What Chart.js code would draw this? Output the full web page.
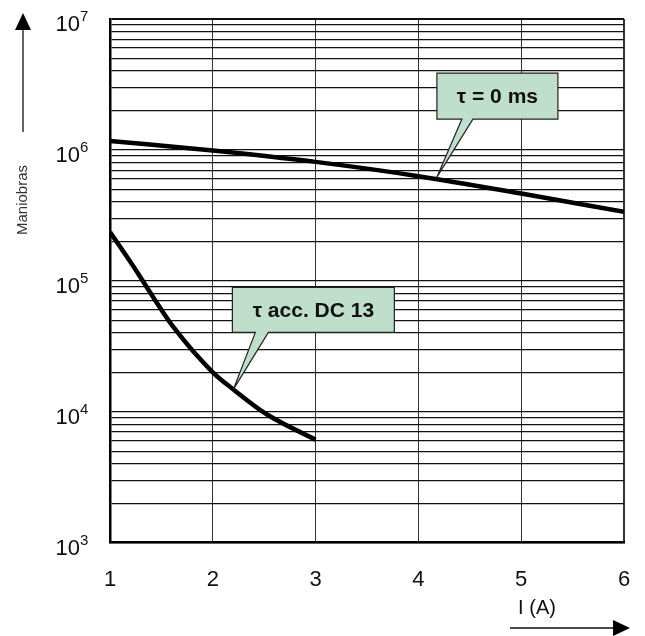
<!DOCTYPE html>
<html><head><meta charset="utf-8">
<script src="https://cdn.jsdelivr.net/npm/chart.js@4/dist/chart.umd.min.js"></script>
<style>html,body{margin:0;padding:0;background:#fff}#wrap{width:645px;height:636px}</style>
</head><body><div id="wrap"><canvas id="c" width="645" height="636"></canvas></div>
<script>
// ---- data ----
const xTickValues = [1, 2, 3, 4, 5, 6];
const yDecades = [3, 4, 5, 6, 7];
const tau0X = [1, 2, 3, 4, 5, 6];
const tau0Y = [1170000, 990000, 810000, 630000, 464000, 336000];
const dc13X = [1, 1.23, 1.42, 1.62, 2.0, 2.2, 2.52, 3.0];
const dc13Y = [236000, 128000, 75000, 44000, 20000, 14800, 9600, 6100];
const calloutTexts = ['τ = 0 ms', 'τ acc. DC 13'];
const calloutTipX = [4.18, 2.2];
const calloutTipY = [620000, 14800];
const yTitle = 'Maniobras';
const xTitle = 'I (A)';

const FONT = '"Liberation Sans", Arial, Helvetica, sans-serif';

// minor + major log ticks
const yTickValues = [];
yDecades.forEach((d, i) => {
  for (let k = 1; k <= 9; k++) {
    if (i === yDecades.length - 1 && k > 1) break;
    yTickValues.push(k * Math.pow(10, d));
  }
});

const calloutGeom = [
  {left: 0, right: 121, top: -104, bottom: -58, tailL: 25, tailR: 36},
  {left: -1, right: 161, top: -102, bottom: -57, tailL: 22, tailR: 35}
];

const overlay = {
  id: 'overlay',
  afterDatasetsDraw(chart) {
    const ctx = chart.ctx;
    const xs = chart.scales.x, ys = chart.scales.y;
    ctx.save();
    calloutTexts.forEach((t, i) => {
      const tx = xs.getPixelForValue(calloutTipX[i]);
      const ty = ys.getPixelForValue(calloutTipY[i]);
      const g = calloutGeom[i];
      const L = tx + g.left, R = tx + g.right, T = ty + g.top, B = ty + g.bottom;
      ctx.beginPath();
      ctx.moveTo(L, T); ctx.lineTo(R, T); ctx.lineTo(R, B);
      ctx.lineTo(tx + g.tailR, B); ctx.lineTo(tx, ty); ctx.lineTo(tx + g.tailL, B);
      ctx.lineTo(L, B); ctx.closePath();
      ctx.fillStyle = '#bfdfcc';
      ctx.fill();
      ctx.lineWidth = 1.2; ctx.strokeStyle = '#222';
      ctx.stroke();
      ctx.fillStyle = '#111';
      ctx.font = 'bold 21px ' + FONT;
      ctx.textAlign = 'center'; ctx.textBaseline = 'middle';
      ctx.fillText(t, (L + R) / 2, (T + B) / 2 + 1);
    });
    ctx.restore();
  },
  afterDraw(chart) {
    const ctx = chart.ctx;
    const ys = chart.scales.y;
    ctx.save();
    ctx.fillStyle = '#111';
    yDecades.forEach(d => {
      const y = ys.getPixelForValue(Math.pow(10, d));
      ctx.font = '22px ' + FONT;
      ctx.textAlign = 'right'; ctx.textBaseline = 'alphabetic';
      ctx.fillText('10', 80, y + 12);
      ctx.font = '15px ' + FONT;
      ctx.textAlign = 'left';
      ctx.fillText(String(d), 80, y + 2);
    });
    ctx.save();
    ctx.translate(23, 200);
    ctx.rotate(-Math.PI / 2);
    ctx.font = '15px ' + FONT;
    ctx.textAlign = 'center'; ctx.textBaseline = 'middle';
    ctx.fillStyle = '#333';
    ctx.fillText(yTitle, 0, 0);
    ctx.restore();
    ctx.strokeStyle = '#111'; ctx.lineWidth = 1.3;
    ctx.beginPath(); ctx.moveTo(23, 132); ctx.lineTo(23, 28); ctx.stroke();
    ctx.beginPath(); ctx.moveTo(23, 13); ctx.lineTo(31, 30); ctx.lineTo(15, 30); ctx.closePath();
    ctx.fillStyle = '#000'; ctx.fill();
    ctx.fillStyle = '#111';
    ctx.font = '20px ' + FONT;
    ctx.textAlign = 'center'; ctx.textBaseline = 'middle';
    ctx.fillText(xTitle, 537, 608);
    ctx.beginPath(); ctx.moveTo(510, 628); ctx.lineTo(614, 628); ctx.stroke();
    ctx.beginPath(); ctx.moveTo(630, 628); ctx.lineTo(613, 620); ctx.lineTo(613, 636); ctx.closePath();
    ctx.fillStyle = '#000'; ctx.fill();
    ctx.restore();
  }
};

new Chart(document.getElementById('c'), {
  type: 'line',
  data: {
    datasets: [
      {data: tau0X.map((x, i) => ({x, y: tau0Y[i]})), borderColor: '#000', borderWidth: 4.5,
       pointRadius: 0, cubicInterpolationMode: 'monotone', fill: false},
      {data: dc13X.map((x, i) => ({x, y: dc13Y[i]})), borderColor: '#000', borderWidth: 4.5,
       pointRadius: 0, cubicInterpolationMode: 'monotone', fill: false}
    ]
  },
  options: {
    responsive: false, animation: false, devicePixelRatio: 1,
    layout: {padding: {left: 110, right: 21, top: 19, bottom: 19}},
    plugins: {legend: {display: false}, tooltip: {enabled: false}},
    scales: {
      x: {
        type: 'linear', min: 1, max: 6,
        afterBuildTicks: s => { s.ticks = xTickValues.map(v => ({value: v})); },
        afterFit: s => { s.paddingRight = 0; s.paddingLeft = 0; },
        ticks: {font: {size: 22, family: FONT}, color: '#111', padding: 24, maxRotation: 0},
        grid: {color: '#333', lineWidth: c => (c.tick && c.tick.value === 6) ? 2 : 1, drawTicks: false},
        border: {display: true, color: '#000', width: 2.5}
      },
      y: {
        type: 'logarithmic', min: 1000, max: 10000000,
        afterBuildTicks: s => { s.ticks = yTickValues.map(v => ({value: v})); },
        ticks: {display: false},
        grid: {color: '#111', lineWidth: c => (c.tick && c.tick.value === 1e7) ? 2 : 1.2, drawTicks: false},
        border: {display: true, color: '#000', width: 2.5}
      }
    }
  },
  plugins: [overlay]
});
</script></body></html>
